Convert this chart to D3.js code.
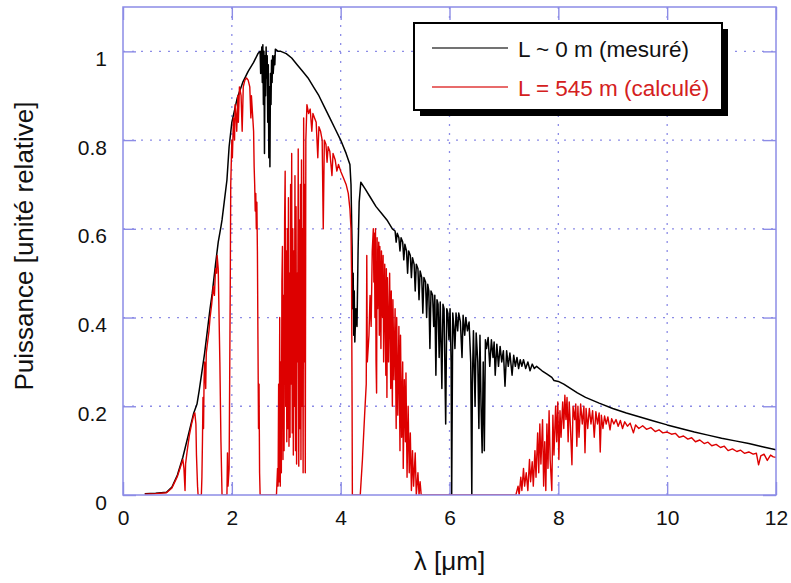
<!DOCTYPE html>
<html>
<head>
<meta charset="utf-8">
<script src="https://cdn.jsdelivr.net/npm/d3@7"></script>
<style>
  body { margin: 0; background: #fff; }
  text { font-family: "Liberation Sans", Arial, sans-serif; }
</style>
</head>
<body>
<div id="chart"></div>
<script>
// ---- data ----
var xTicks = [0, 2, 4, 6, 8, 10, 12];
var yTicks = [0, 0.2, 0.4, 0.6, 0.8, 1];
var legendLabels = ["L ~ 0 m (mesuré)", "L = 545 m (calculé)"];
var xTitle = "λ [μm]";
var yTitle = "Puissance [unité relative]";

// measured spectrum [lambda (um), relative power]
var mesure = [
  [0.40,0.003],[0.60,0.004],[0.80,0.006],[0.90,0.018],[1.00,0.045],[1.10,0.085],[1.20,0.135],[1.30,0.185],
  [1.36,0.205],[1.40,0.235],[1.50,0.32],[1.60,0.42],[1.64,0.455],[1.70,0.52],[1.75,0.57],[1.80,0.605],
  [1.82,0.62],[1.86,0.66],[1.91,0.71],[1.95,0.785],[2.00,0.84],[2.10,0.895],[2.20,0.93],[2.30,0.955],
  [2.40,0.975],[2.48,0.995],[2.52,1.0],[2.53,0.95],[2.54,0.97],[2.55,1.01],[2.56,0.93],[2.57,1.015],[2.58,0.88],
  [2.59,1.0],[2.60,0.77],[2.61,0.99],[2.62,0.9],[2.63,1.01],[2.64,0.94],[2.65,0.99],[2.66,0.84],
  [2.67,0.97],[2.68,0.76],[2.69,0.92],[2.70,0.74],[2.71,0.95],[2.72,0.88],[2.73,0.98],[2.74,0.93],
  [2.75,0.99],[2.76,0.95],[2.78,0.99],[2.79,0.97],[2.80,1.005],[2.85,1.0],[2.90,1.0],[3.00,0.995],[3.10,0.985],[3.20,0.97],
  [3.30,0.955],[3.40,0.94],[3.50,0.92],[3.60,0.9],[3.70,0.875],[3.80,0.85],[3.90,0.825],[4.00,0.8],
  [4.10,0.77],[4.17,0.745],[4.19,0.7],[4.21,0.56],[4.22,0.42],[4.23,0.5],[4.24,0.36],[4.25,0.46],
  [4.26,0.345],[4.28,0.42],[4.30,0.38],[4.32,0.55],[4.34,0.66],[4.37,0.705],[4.45,0.69],[4.55,0.67],
  [4.65,0.65],[4.75,0.635],[4.85,0.62],[4.95,0.6],[5.00,0.595],[5.02,0.57],[5.04,0.59],[5.07,0.58],
  [5.09,0.55],[5.11,0.58],[5.14,0.57],[5.16,0.53],[5.18,0.565],[5.21,0.55],[5.23,0.5],[5.25,0.55],
  [5.28,0.54],[5.30,0.49],[5.32,0.535],[5.35,0.52],[5.37,0.46],[5.39,0.52],[5.42,0.51],[5.44,0.44],
  [5.46,0.505],[5.49,0.49],[5.51,0.41],[5.53,0.49],[5.56,0.48],[5.58,0.4],[5.60,0.475],[5.62,0.46],
  [5.64,0.33],[5.66,0.46],[5.69,0.45],[5.71,0.38],[5.73,0.45],[5.75,0.27],[5.77,0.44],[5.79,0.43],
  [5.81,0.31],[5.83,0.435],[5.86,0.24],[5.88,0.43],[5.90,0.42],[5.93,0.16],[5.95,0.42],[5.97,0.41],
  [5.99,0.35],[6.01,0.42],[6.03,0.3],[6.04,0.0],[6.05,0.2],[6.06,0.41],[6.08,0.38],[6.10,0.33],
  [6.12,0.41],[6.15,0.37],[6.17,0.41],[6.20,0.39],[6.23,0.31],[6.25,0.405],[6.28,0.36],[6.30,0.4],
  [6.33,0.37],[6.36,0.39],[6.39,0.3],[6.41,0.0],[6.42,0.25],[6.44,0.37],[6.47,0.2],[6.49,0.365],
  [6.52,0.3],[6.54,0.15],[6.56,0.36],[6.58,0.2],[6.60,0.095],[6.62,0.3],[6.64,0.1],[6.66,0.35],
  [6.68,0.33],[6.71,0.355],[6.74,0.29],[6.77,0.35],[6.80,0.31],[6.82,0.345],[6.84,0.27],[6.87,0.34],
  [6.90,0.29],[6.93,0.335],[6.96,0.3],[6.99,0.325],[7.02,0.245],[7.05,0.325],[7.08,0.29],[7.11,0.32],
  [7.15,0.27],[7.18,0.315],[7.21,0.29],[7.24,0.31],[7.27,0.285],[7.30,0.305],[7.33,0.29],[7.36,0.305],
  [7.40,0.285],[7.44,0.3],[7.48,0.28],[7.52,0.295],[7.56,0.285],[7.60,0.29],[7.70,0.28],[7.80,0.272],
  [7.88,0.265],[7.92,0.258],[8.00,0.256],[8.10,0.25],[8.20,0.242],[8.35,0.23],[8.50,0.22],[8.75,0.207],
  [9.00,0.195],[9.25,0.185],[9.50,0.176],[9.75,0.167],[10.0,0.158],[10.25,0.15],[10.5,0.142],[10.75,0.135],
  [11.0,0.128],[11.25,0.122],[11.5,0.116],[11.75,0.109],[12.0,0.102]
];

// computed spectrum after 545 m of propagation
var calcule = [
  [0.40,0.002],[0.60,0.003],[0.80,0.005],[0.90,0.016],[1.00,0.042],[1.06,0.065],[1.10,0.08],[1.12,0.06],
  [1.14,0.01],[1.15,0.07],[1.18,0.1],[1.22,0.135],[1.26,0.16],[1.30,0.18],[1.32,0.185],[1.34,0.16],
  [1.35,0.09],[1.37,0.02],[1.38,0.0],[1.44,0.0],[1.45,0.04],[1.46,0.12],[1.47,0.22],[1.48,0.15],
  [1.49,0.26],[1.50,0.3],[1.52,0.24],[1.53,0.32],[1.56,0.35],[1.58,0.37],[1.60,0.4],[1.63,0.43],
  [1.66,0.47],[1.68,0.45],[1.70,0.51],[1.72,0.5],[1.73,0.54],[1.75,0.51],[1.76,0.44],[1.78,0.3],
  [1.80,0.12],[1.82,0.0],[1.91,0.0],[1.92,0.095],[1.93,0.02],[1.95,0.06],[1.97,0.45],[1.98,0.7],
  [2.00,0.8],[2.01,0.76],[2.03,0.85],[2.05,0.8],[2.06,0.88],[2.08,0.85],[2.09,0.82],[2.11,0.9],[2.12,0.84],[2.14,0.92],[2.17,0.9],
  [2.19,0.82],[2.21,0.92],[2.24,0.935],[2.27,0.94],[2.30,0.935],[2.33,0.92],[2.35,0.85],[2.36,0.9],[2.38,0.86],
  [2.40,0.82],[2.41,0.74],[2.42,0.7],[2.43,0.64],[2.44,0.68],[2.45,0.6],[2.46,0.66],[2.47,0.55],[2.48,0.35],[2.49,0.15],
  [2.50,0.25],[2.51,0.05],[2.52,0.0],[2.82,0.0],[2.84,0.06],[2.85,0.02],[2.86,0.25],[2.87,0.03],
  [2.88,0.4],[2.89,0.02],[2.90,0.3],[2.91,0.05],[2.92,0.48],[2.93,0.56],[2.94,0.08],[2.95,0.45],
  [2.96,0.1],[2.97,0.62],[2.98,0.73],[2.99,0.2],[3.00,0.55],[3.01,0.12],[3.02,0.6],[3.03,0.15],
  [3.04,0.67],[3.05,0.11],[3.06,0.5],[3.07,0.13],[3.08,0.7],[3.09,0.25],[3.10,0.77],[3.11,0.14],
  [3.12,0.6],[3.13,0.09],[3.14,0.55],[3.15,0.2],[3.16,0.72],[3.17,0.1],[3.18,0.65],[3.19,0.07],
  [3.20,0.5],[3.21,0.3],[3.22,0.78],[3.23,0.065],[3.24,0.62],[3.25,0.15],[3.26,0.7],[3.27,0.08],
  [3.28,0.755],[3.29,0.2],[3.30,0.6],[3.31,0.05],[3.32,0.85],[3.33,0.3],[3.34,0.7],[3.35,0.05],
  [3.36,0.8],[3.38,0.88],[3.41,0.86],[3.44,0.87],[3.47,0.82],[3.49,0.86],[3.52,0.85],[3.55,0.84],
  [3.58,0.76],[3.60,0.83],[3.63,0.82],[3.66,0.8],[3.68,0.6],[3.70,0.8],[3.73,0.79],[3.75,0.75],
  [3.77,0.785],[3.80,0.775],[3.84,0.72],[3.86,0.77],[3.90,0.755],[3.93,0.73],[3.96,0.745],[4.00,0.73],
  [4.05,0.715],[4.10,0.70],[4.14,0.68],[4.17,0.645],[4.19,0.6],[4.20,0.5],[4.21,0.2],[4.215,0.0],
  [4.36,0.0],[4.40,0.08],[4.44,0.18],[4.47,0.25],[4.48,0.54],[4.49,0.3],[4.52,0.36],[4.54,0.45],
  [4.56,0.38],[4.58,0.55],[4.60,0.6],[4.61,0.48],[4.62,0.59],[4.63,0.4],[4.64,0.6],[4.65,0.3],
  [4.66,0.23],[4.67,0.58],[4.68,0.42],[4.70,0.57],[4.71,0.36],[4.72,0.56],[4.74,0.33],[4.75,0.55],
  [4.77,0.4],[4.78,0.54],[4.79,0.3],[4.81,0.52],[4.83,0.27],[4.84,0.51],[4.85,0.22],[4.86,0.49],
  [4.88,0.3],[4.90,0.5],[4.92,0.24],[4.93,0.46],[4.95,0.2],[4.96,0.44],[4.98,0.26],[5.00,0.42],
  [5.02,0.15],[5.03,0.4],[5.05,0.18],[5.07,0.38],[5.09,0.1],[5.10,0.36],[5.12,0.13],[5.14,0.3],
  [5.15,0.06],[5.17,0.26],[5.19,0.12],[5.20,0.275],[5.22,0.04],[5.24,0.2],[5.26,0.05],[5.28,0.14],
  [5.30,0.01],[5.32,0.1],[5.34,0.02],[5.37,0.095],[5.39,0.0],[5.42,0.05],[5.44,0.0],[5.46,0.03],
  [5.48,0.0],[7.22,0.0],[7.26,0.02],[7.28,0.0],[7.31,0.04],[7.33,0.01],[7.36,0.06],[7.38,0.02],
  [7.41,0.05],[7.44,0.01],[7.47,0.08],[7.49,0.03],[7.52,0.075],[7.54,0.02],[7.57,0.1],[7.59,0.04],
  [7.62,0.14],[7.64,0.05],[7.66,0.16],[7.68,0.07],[7.71,0.17],[7.73,0.02],[7.75,0.12],[7.77,0.01],
  [7.79,0.16],[7.81,0.06],[7.83,0.19],[7.85,0.08],[7.88,0.01],[7.90,0.18],[7.92,0.09],[7.95,0.2],
  [7.97,0.12],[7.99,0.21],[8.01,0.08],[8.03,0.19],[8.05,0.13],[8.08,0.21],[8.10,0.15],[8.12,0.225],
  [8.14,0.17],[8.16,0.22],[8.18,0.12],[8.20,0.21],[8.22,0.16],[8.25,0.068],[8.27,0.2],[8.30,0.17],
  [8.32,0.205],[8.34,0.11],[8.36,0.2],[8.38,0.13],[8.41,0.205],[8.44,0.16],[8.47,0.2],[8.49,0.095],
  [8.51,0.195],[8.54,0.15],[8.57,0.195],[8.60,0.16],[8.63,0.19],[8.66,0.13],[8.69,0.188],[8.72,0.16],
  [8.75,0.185],[8.77,0.097],[8.79,0.18],[8.82,0.15],[8.85,0.178],[8.88,0.16],[8.91,0.176],[8.95,0.147],
  [8.98,0.172],[9.02,0.16],[9.06,0.17],[9.10,0.155],[9.14,0.168],[9.18,0.15],[9.22,0.165],[9.27,0.155],
  [9.32,0.162],[9.38,0.14],[9.42,0.158],[9.48,0.15],[9.55,0.156],[9.62,0.148],[9.70,0.152],[9.78,0.143],
  [9.85,0.147],[9.92,0.14],[10.0,0.142],[10.08,0.137],[10.15,0.139],[10.22,0.13],[10.3,0.133],[10.38,0.126],
  [10.45,0.129],[10.52,0.12],[10.6,0.124],[10.68,0.116],[10.75,0.119],[10.82,0.111],[10.9,0.114],[10.98,0.107],
  [11.05,0.11],[11.12,0.1],[11.2,0.104],[11.28,0.098],[11.35,0.101],[11.42,0.094],[11.5,0.097],[11.58,0.092],
  [11.64,0.094],[11.68,0.068],[11.72,0.088],[11.78,0.092],[11.84,0.078],[11.9,0.09],[11.95,0.086],[12.0,0.085]
];

// set the dimensions and margins of the graph
var margin = {top: 7, right: 15, bottom: 88, left: 123},
    width = 791 - margin.left - margin.right,
    height = 583 - margin.top - margin.bottom;

var frameColor = "#8c8ce6";

var svg = d3.select("#chart")
    .append("svg")
    .attr("width", width + margin.left + margin.right)
    .attr("height", height + margin.top + margin.bottom)
    .append("g")
    .attr("transform", "translate(" + margin.left + "," + margin.top + ")");

var x = d3.scaleLinear().domain([0, 12]).range([0, width]);
var y = d3.scaleLinear().domain([0, 1.1]).range([height, 0]);

// dotted grid
svg.append("g")
    .selectAll("line")
    .data(xTicks.slice(1, -1))
    .enter().append("line")
    .attr("x1", d => x(d)).attr("x2", d => x(d))
    .attr("y1", 0).attr("y2", height)
    .attr("stroke", frameColor)
    .attr("stroke-width", 1.3)
    .attr("stroke-dasharray", "2,7");

svg.append("g")
    .selectAll("line")
    .data(yTicks.slice(1))
    .enter().append("line")
    .attr("x1", 0).attr("x2", width)
    .attr("y1", d => y(d)).attr("y2", d => y(d))
    .attr("stroke", frameColor)
    .attr("stroke-width", 1.3)
    .attr("stroke-dasharray", "2,7");

// axes, ticks pointing inward
svg.append("g")
    .attr("transform", "translate(0," + height + ")")
    .call(d3.axisBottom(x).tickValues(xTicks).tickSize(-13).tickPadding(15).tickFormat(d3.format("d")));
svg.append("g")
    .call(d3.axisTop(x).tickValues(xTicks).tickSize(-13).tickFormat(""));
var yAxis = svg.append("g")
    .call(d3.axisLeft(y).tickValues(yTicks).tickSize(-13).tickPadding(16).tickFormat(d => d));
svg.append("g")
    .attr("transform", "translate(" + width + ",0)")
    .call(d3.axisRight(y).tickValues(yTicks).tickSize(-13).tickFormat(""));

svg.selectAll(".domain").remove();
svg.selectAll(".tick line").attr("stroke", frameColor).attr("stroke-width", 1.4);
svg.selectAll(".tick text")
    .attr("fill", "#111")
    .style("font-size", "21px")
    .style("font-family", "'Liberation Sans', Arial, sans-serif");
yAxis.selectAll(".tick text").attr("dy", "0.67em");

// clip for the curves
svg.append("clipPath").attr("id", "clip")
    .append("rect").attr("width", width).attr("height", height);

var line = d3.line()
    .x(function (d) { return x(d[0]); })
    .y(function (d) { return y(d[1]); });

var curves = svg.append("g").attr("clip-path", "url(#clip)");
curves.append("path")
    .datum(mesure)
    .attr("fill", "none")
    .attr("stroke", "#000")
    .attr("stroke-width", 1.5)
    .attr("stroke-linejoin", "round")
    .attr("d", line);
curves.append("path")
    .datum(calcule)
    .attr("fill", "none")
    .attr("stroke", "#dd0000")
    .attr("stroke-width", 1.4)
    .attr("stroke-linejoin", "round")
    .attr("d", line);

// frame
svg.append("rect")
    .attr("width", width)
    .attr("height", height)
    .attr("fill", "none")
    .attr("stroke", frameColor)
    .attr("stroke-width", 1.5);

// axis titles
svg.append("text")
    .attr("text-anchor", "middle")
    .attr("x", width / 2)
    .attr("y", height + 75)
    .style("font-size", "26px")
    .attr("fill", "#111")
    .text(xTitle);

svg.append("text")
    .attr("text-anchor", "middle")
    .attr("transform", "translate(" + (33 - margin.left) + "," + (height / 2 - 5) + ") rotate(-90)")
    .style("font-size", "26px")
    .attr("fill", "#111")
    .text(yTitle);

// legend
var lg = svg.append("g").attr("transform", "translate(" + (414 - margin.left) + "," + (23 - margin.top) + ")");
lg.append("rect").attr("x", 6).attr("y", 6).attr("width", 308).attr("height", 87).attr("fill", "#000");
lg.append("rect").attr("width", 308).attr("height", 87).attr("fill", "#fff").attr("stroke", "#000").attr("stroke-width", 2);

var legendColors = ["#444", "#e03a3a"];
var textColors = ["#111", "#d42020"];
legendLabels.forEach(function (d, i) {
    lg.append("line")
        .attr("x1", 18).attr("x2", 94)
        .attr("y1", 25 + i * 39).attr("y2", 25 + i * 39)
        .attr("stroke", legendColors[i])
        .attr("stroke-width", 1.6);
    lg.append("text")
        .attr("x", 104)
        .attr("y", 34 + i * 39)
        .style("font-size", "22.5px")
        .attr("fill", textColors[i])
        .text(d);
});
</script>
</body>
</html>
